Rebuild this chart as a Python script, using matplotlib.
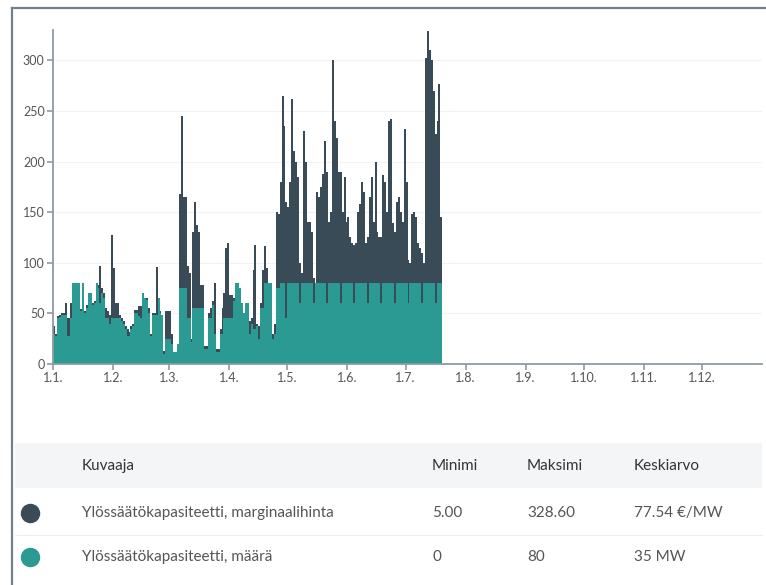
import numpy as np
import pandas as pd
import matplotlib
matplotlib.use("Agg")
import matplotlib.pyplot as plt
import matplotlib.dates as mdates
from matplotlib.lines import Line2D
from matplotlib.patches import Rectangle

plt.rcParams['font.family'] = ['Lato', 'DejaVu Sans']

# daily values, starting 1.1.2024
price = [
    38, 30, 47, 48, 50, 50, 60, 45, 45, 60,
    55, 60, 50, 50, 54, 58, 52, 58, 62, 58,
    60, 62, 72, 78, 97, 75, 70, 55, 52, 48,
    127, 95, 60, 60, 48, 45, 42, 38, 35, 32,
    38, 40, 53, 53, 57, 57, 55, 60, 65, 55,
    30, 50, 50, 96, 62, 52, 48, 13, 52, 52,
    52, 30, 5, 12, 20, 168, 245, 165, 165, 97,
    90, 25, 130, 160, 137, 130, 78, 78, 18, 18,
    50, 55, 62, 80, 15, 15, 35, 55, 70, 115,
    120, 68, 68, 65, 70, 65, 60, 55, 50, 60,
    60, 42, 45, 93, 118, 40, 38, 60, 93, 117,
    95, 80, 75, 30, 40, 150, 148, 180, 265, 235,
    160, 155, 180, 262, 210, 200, 185, 100, 90, 230,
    200, 140, 140, 130, 85, 80, 170, 165, 175, 188,
    220, 190, 140, 150, 300, 240, 223, 190, 190, 150,
    185, 140, 145, 125, 120, 118, 120, 150, 158, 180,
    170, 120, 125, 165, 185, 140, 200, 130, 125, 125,
    187, 180, 150, 240, 242, 139, 130, 160, 165, 150,
    140, 232, 180, 103, 100, 148, 150, 145, 120, 115,
    110, 100, 302, 328.6, 310, 300, 270, 227, 240, 277, 145,
]
amount = [
    30, 28, 45, 46, 48, 48, 48, 28, 28, 45,
    80, 80, 80, 80, 52, 80, 50, 55, 70, 70,
    58, 60, 80, 75, 60, 70, 65, 45, 45, 40,
    45, 45, 45, 45, 45, 42, 40, 35, 28, 28,
    35, 38, 50, 50, 47, 45, 70, 65, 63, 50,
    28, 48, 48, 48, 65, 50, 48, 10, 25, 25,
    25, 20, 12, 12, 20, 75, 75, 75, 75, 45,
    45, 22, 55, 55, 55, 55, 55, 55, 15, 15,
    45, 45, 58, 30, 12, 12, 30, 30, 45, 45,
    45, 45, 45, 62, 80, 80, 75, 60, 50, 60,
    60, 30, 40, 35, 35, 38, 25, 55, 55, 80,
    80, 80, 80, 25, 30, 75, 75, 80, 80, 80,
    45, 80, 80, 80, 80, 80, 80, 60, 80, 80,
    80, 80, 80, 80, 60, 80, 80, 80, 80, 80,
    80, 60, 80, 80, 80, 80, 80, 80, 60, 80,
    80, 80, 80, 80, 80, 60, 80, 80, 80, 80,
    80, 80, 60, 80, 80, 80, 80, 80, 80, 60,
    80, 80, 80, 80, 80, 80, 60, 80, 80, 80,
    80, 80, 80, 60, 80, 80, 80, 80, 80, 80,
    60, 80, 80, 80, 80, 80, 80, 60, 80, 80, 80,
]

series_names = ['Ylössäätökapasiteetti, marginaalihinta', 'Ylössäätökapasiteetti, määrä']
col_heads = ['Kuvaaja', 'Minimi', 'Maksimi', 'Keskiarvo']
minimi = ['5.00', '0']
maksimi = ['328.60', '80']
keskiarvo = ['77.54 €/MW', '35 MW']

dark = '#3a4b58'
teal = '#2a9a92'
W, H = 766, 585

dates = pd.date_range('2024-01-01', periods=len(price) + 1, freq='D')
p = np.append(price, price[-1])
a = np.append(amount, amount[-1])

fig = plt.figure(figsize=(W / 100, H / 100), dpi=100)
ax = fig.add_axes([53 / W, 1 - 364 / H, (762 - 53) / W, (364 - 30) / H])

ax.fill_between(dates, p, step='post', color=dark, lw=0)
ax.fill_between(dates, a, step='post', color=teal, lw=0)

ax.set_xlim(pd.Timestamp('2024-01-01'), pd.Timestamp('2025-01-01'))
ax.set_ylim(0, 330)
ax.set_yticks(range(0, 301, 50))
ax.set_xticks(pd.date_range('2024-01-01', '2024-12-01', freq='MS'))
ax.xaxis.set_major_formatter(mdates.DateFormatter('1.%-m.'))
ax.grid(axis='y', color='#f2f2f2', lw=0.8)
ax.set_axisbelow(True)
for s in ['top', 'right']:
    ax.spines[s].set_visible(False)
for s in ['left', 'bottom']:
    ax.spines[s].set_color('#8e9aa3')
    ax.spines[s].set_linewidth(1.3)
ax.tick_params(colors='#8e9aa3', labelcolor='#555555', labelsize=9, length=4, width=1.2, pad=2)

# outer frame
fig.add_artist(Line2D([12 / W, 12 / W], [0, 1 - 8 / H], color='#6f818e', lw=1.6))
fig.add_artist(Line2D([12 / W, 1], [1 - 8 / H, 1 - 8 / H], color='#6f818e', lw=1.6))

# table below the chart
fig.add_artist(Rectangle((15 / W, 1 - 488 / H), (762 - 15) / W, 45 / H,
                         transform=fig.transFigure, color='#f3f5f7', lw=0))
fig.add_artist(Line2D([15 / W, 762 / W], [1 - 535 / H, 1 - 535 / H], color='#eeeeee', lw=0.8))
col_x = [82, 432, 527, 634]
for x, t in zip(col_x, col_heads):
    fig.text(x / W, 1 - 466 / H, t, fontsize=11, color='#333333', va='center')

rows_y = [513, 557]
for i, y in enumerate(rows_y):
    fig.add_artist(Line2D([30 / W], [1 - y / H], marker='o', markersize=13,
                          color=[dark, teal][i], lw=0))
    vals = [series_names[i], minimi[i], maksimi[i], keskiarvo[i]]
    for x, t in zip(col_x, vals):
        fig.text(x / W, 1 - y / H, t, fontsize=11, color='#555555', va='center')

fig.savefig('out.png', dpi=100)
